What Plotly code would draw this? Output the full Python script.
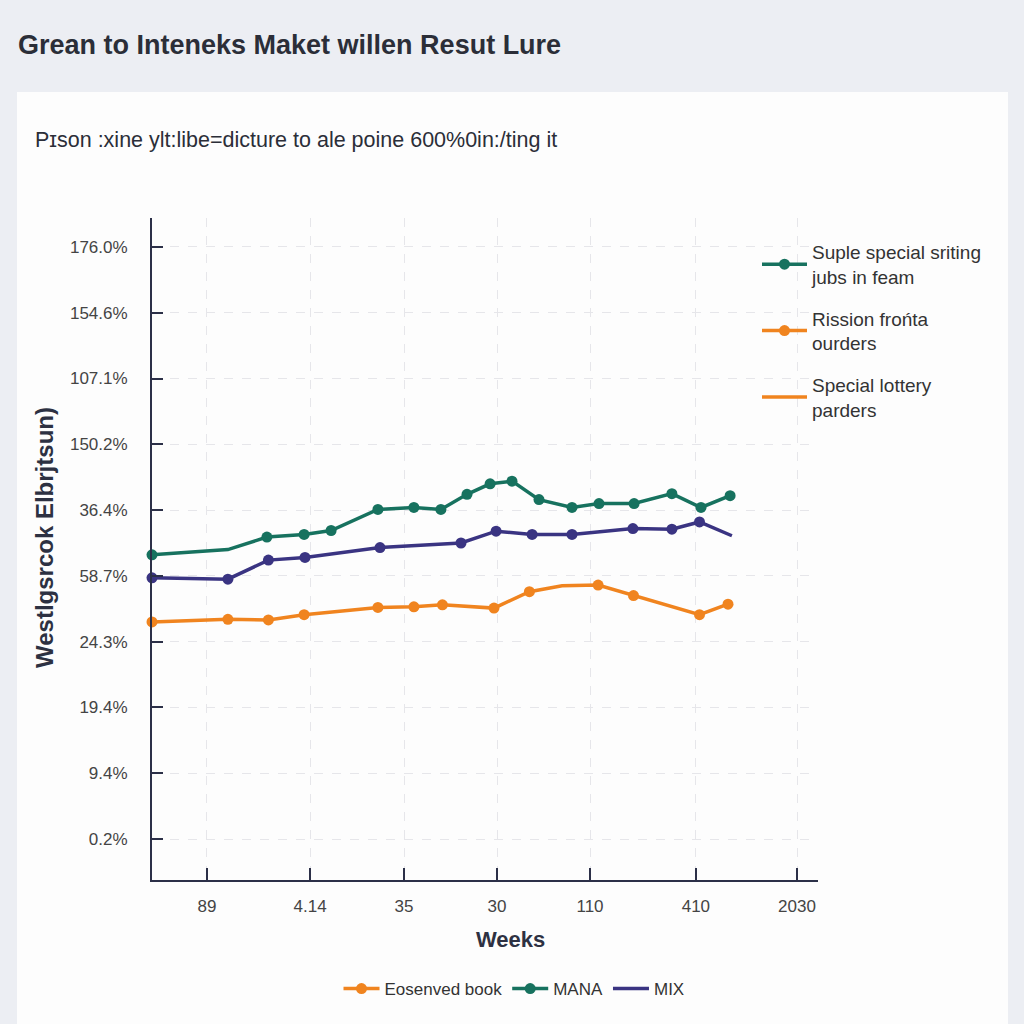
import plotly.graph_objects as go

# ---------------- data ----------------
green_x = [0.0, 2.53, 3.83, 5.07, 5.97, 7.53, 8.73, 9.63, 10.5, 11.27, 12.0, 12.9, 14.0, 14.9, 16.07, 17.33, 18.3, 19.27]
green_y = [4.32, 4.40, 4.59, 4.63, 4.69, 5.01, 5.04, 5.01, 5.24, 5.40, 5.44, 5.16, 5.04, 5.10, 5.10, 5.25, 5.04, 5.22]

purple_x = [0.0, 2.53, 3.88, 5.1, 7.6, 10.3, 11.47, 12.67, 14.0, 16.03, 17.33, 18.25, 19.33]
purple_y = [3.97, 3.95, 4.24, 4.28, 4.43, 4.50, 4.68, 4.63, 4.63, 4.72, 4.71, 4.82, 4.61]

orange_x = [0.0, 2.53, 3.88, 5.07, 7.53, 8.73, 9.68, 11.4, 12.58, 13.67, 14.87, 16.05, 18.25, 19.2]
orange_y = [3.30, 3.34, 3.33, 3.41, 3.52, 3.53, 3.56, 3.51, 3.76, 3.85, 3.86, 3.70, 3.41, 3.57]

x_tick_vals = [1.83, 5.27, 8.4, 11.5, 14.6, 18.13, 21.5]
x_tick_text = ["89", "4.14", "35", "30", "110", "410", "2030"]
y_tick_vals = [0, 1, 2, 3, 4, 5, 6, 7, 8, 9]
y_tick_text = ["0.2%", "9.4%", "19.4%", "24.3%", "58.7%", "36.4%", "150.2%", "107.1%", "154.6%", "176.0%"]

legend_right_names = ["Suple special sriting<br>jubs in feam", "Rission frońta<br>ourders", "Special lottery<br>parders"]
legend_bottom_names = ["Eosenved book", "MANA", "MIX"]

title_text = "Grean to Inteneks Maket willen Resut Lure"
subtitle_text = "Pɪson :xine ylt:libe=dicture to ale poine 600%0in:/ting it"
y_title = "Westlgsrcok Elbrjtsun)"
x_title = "Weeks"

# ---------------- styling ----------------
GREEN = "#17725f"
ORANGE = "#f0841f"
PURPLE = "#3a3482"
FONT = "Liberation Sans, Arial, sans-serif"

W, H = 1024, 1024
L, R, T, B = 152, 818, 218, 880


def pxx(p):
    return (p - L) / (R - L)


def pxy(p):
    return (B - p) / (B - T)


def sizes(n, hidden, s=11):
    return [0 if i in hidden else s for i in range(n)]


def mk(col, size):
    return dict(color=col, size=size, opacity=1, line=dict(width=0))


fig = go.Figure()

fig.add_trace(go.Scatter(x=orange_x, y=orange_y, mode="lines+markers",
                         line=dict(color=ORANGE, width=3.5),
                         marker=mk(ORANGE, sizes(len(orange_x), {9})),
                         showlegend=False, cliponaxis=False))
fig.add_trace(go.Scatter(x=purple_x, y=purple_y, mode="lines+markers",
                         line=dict(color=PURPLE, width=3.5),
                         marker=mk(PURPLE, sizes(len(purple_x), {len(purple_x) - 1})),
                         showlegend=False, cliponaxis=False))
fig.add_trace(go.Scatter(x=green_x, y=green_y, mode="lines+markers",
                         line=dict(color=GREEN, width=3.5),
                         marker=mk(GREEN, sizes(len(green_x), {1})),
                         showlegend=False, cliponaxis=False))

# legend-only entries (right legend)
right_specs = [(GREEN, "lines+markers"), (ORANGE, "lines+markers"), (ORANGE, "lines")]
for i, (name, (col, mode)) in enumerate(zip(legend_right_names, right_specs)):
    fig.add_trace(go.Scatter(x=[None], y=[None], mode=mode, name=name, legendgroup="r%d" % i,
                             line=dict(color=col, width=3.5), marker=mk(col, 11),
                             legend="legend"))

# legend-only entries (bottom legend)
bottom_specs = [(ORANGE, "lines+markers"), (GREEN, "lines+markers"), (PURPLE, "lines")]
for name, (col, mode) in zip(legend_bottom_names, bottom_specs):
    fig.add_trace(go.Scatter(x=[None], y=[None], mode=mode, name=name,
                             line=dict(color=col, width=3.5), marker=mk(col, 11),
                             legend="legend2"))

fig.update_layout(
    width=W, height=H,
    margin=dict(l=L, r=W - R, t=T, b=H - B, pad=0),
    paper_bgcolor="#eceef3",
    plot_bgcolor="#fdfdfd",
    font=dict(family=FONT, color="#333333"),
    shapes=[dict(type="rect", xref="paper", yref="paper", layer="below",
                 x0=pxx(17), x1=pxx(1008), y0=pxy(1024), y1=pxy(92),
                 fillcolor="#fdfdfd", line=dict(width=0))],
    xaxis=dict(range=[0, (R - L) / 30.0], tickmode="array", tickvals=x_tick_vals, ticktext=x_tick_text,
               showline=True, linecolor="#2c3048", linewidth=2, ticks="inside", ticklen=12,
               tickwidth=2, tickcolor="#2c3048",
               showgrid=True, gridcolor="#e6e6ea", griddash="dash", gridwidth=1,
               zeroline=False, tickfont=dict(size=17, color="#444444"), ticklabelstandoff=10),
    yaxis=dict(range=[-0.623, (839 - T) / 65.78], tickmode="array",
               tickvals=y_tick_vals, ticktext=y_tick_text,
               showline=True, linecolor="#2c3048", linewidth=2, ticks="inside", ticklen=11,
               tickwidth=2, tickcolor="#2c3048",
               showgrid=True, gridcolor="#e6e6ea", griddash="dash", gridwidth=1,
               zeroline=False, tickfont=dict(size=17, color="#444444"), ticklabelstandoff=19),
    legend=dict(x=pxx(757), y=pxy(233), xanchor="left", yanchor="top",
                font=dict(size=19, color="#333333"), bgcolor="rgba(0,0,0,0)",
                itemwidth=45, tracegroupgap=14),
    legend2=dict(orientation="h", x=pxx(514), y=pxy(989), xanchor="center", yanchor="middle",
                 font=dict(size=17, color="#333333"), bgcolor="rgba(0,0,0,0)", itemwidth=36),
    annotations=[
        dict(text="<b>" + title_text + "</b>", xref="paper", yref="paper",
             x=pxx(16), y=pxy(45), xanchor="left", yanchor="middle", showarrow=False,
             font=dict(size=27, color="#2b2e38")),
        dict(text=subtitle_text, xref="paper", yref="paper",
             x=pxx(33), y=pxy(140), xanchor="left", yanchor="middle", showarrow=False,
             font=dict(size=21.5, color="#2b2e38")),
        dict(text="<b>" + y_title + "</b>", xref="paper", yref="paper",
             x=pxx(44), y=pxy(538), xanchor="center", yanchor="middle", showarrow=False,
             textangle=-90, font=dict(size=24, color="#2d3142")),
        dict(text="<b>" + x_title + "</b>", xref="paper", yref="paper",
             x=pxx(510), y=pxy(940), xanchor="center", yanchor="middle", showarrow=False,
             font=dict(size=22, color="#2d3142")),
    ],
)

fig.write_html("out.html")
